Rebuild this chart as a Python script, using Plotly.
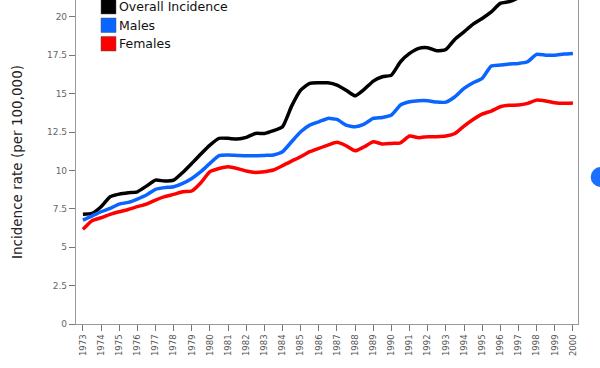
import plotly.graph_objects as go

years = [1973 + 0.5 * i for i in range(55)]

overall = [7.14, 7.20, 7.64, 8.29, 8.46, 8.55, 8.61, 8.98, 9.37, 9.31,
           9.37, 9.87, 10.46, 11.07, 11.65, 12.09, 12.09, 12.04, 12.15, 12.41,
           12.41, 12.59, 12.85, 14.19, 15.23, 15.67, 15.71, 15.71, 15.56, 15.23,
           14.86, 15.28, 15.82, 16.10, 16.21, 17.08, 17.62, 17.95, 17.99, 17.79,
           17.88, 18.55, 19.03, 19.53, 19.90, 20.33, 20.88, 21.00, 21.25, 21.60,
           21.90, 22.20, 22.45, 22.70, 22.90]

males = [6.77, 7.03, 7.31, 7.53, 7.81, 7.92, 8.14, 8.40, 8.77, 8.88,
         8.94, 9.16, 9.48, 9.92, 10.46, 10.96, 11.00, 10.98, 10.96, 10.96,
         10.98, 11.00, 11.22, 11.87, 12.52, 12.95, 13.17, 13.39, 13.32, 12.95,
         12.85, 13.02, 13.39, 13.45, 13.61, 14.26, 14.47, 14.54, 14.54, 14.45,
         14.45, 14.80, 15.34, 15.71, 15.99, 16.80, 16.86, 16.93, 16.97, 17.08,
         17.56, 17.51, 17.51, 17.58, 17.62]

females = [6.16, 6.73, 6.92, 7.14, 7.31, 7.46, 7.64, 7.81, 8.07, 8.29,
           8.44, 8.61, 8.66, 9.20, 9.92, 10.13, 10.24, 10.13, 9.96, 9.87,
           9.92, 10.03, 10.31, 10.61, 10.89, 11.22, 11.44, 11.65, 11.83, 11.61,
           11.28, 11.54, 11.87, 11.72, 11.76, 11.80, 12.24, 12.13, 12.20, 12.20,
           12.24, 12.41, 12.89, 13.32, 13.67, 13.87, 14.15, 14.24, 14.26, 14.37,
           14.58, 14.52, 14.41, 14.37, 14.39]

series_names = ["Overall Incidence", "Males", "Females"]
series_colors = ["#000000", "#0a64ff", "#ff0000"]
series_values = [overall, males, females]

tick_years = list(range(1973, 2001))
y_ticks = [0, 2.5, 5, 7.5, 10, 12.5, 15, 17.5, 20]
y_tick_labels = ["0", "2.5", "5", "7.5", "10", "12.5", "15", "17.5", "20"]

fig = go.Figure()
for name, color, vals in zip(series_names, series_colors, series_values):
    fig.add_trace(go.Scatter(
        x=years, y=vals, mode="lines", name=name, showlegend=False,
        line=dict(color=color, width=3.5, shape="spline", smoothing=0.5),
    ))

# manual legend (square swatches + labels), in paper coordinates
PLOT_W, PLOT_H = 502, 324
shapes = []
annotations = []
for i, (name, color) in enumerate(zip(series_names, series_colors)):
    cy = 7 + 18.5 * i          # centre, px from top of plot area
    x0 = (101 - 76) / PLOT_W
    x1 = (116 - 76) / PLOT_W
    y0 = 1 - (cy + 7) / PLOT_H
    y1 = 1 - (cy - 7.5) / PLOT_H
    shapes.append(dict(type="rect", xref="paper", yref="paper",
                       x0=x0, x1=x1, y0=y0, y1=y1, fillcolor=color,
                       line=dict(color="#555555", width=0.5)))
    annotations.append(dict(text=name, xref="paper", yref="paper",
                            x=(117 - 76) / PLOT_W, y=1 - cy / PLOT_H,
                            xanchor="left", yanchor="middle", showarrow=False,
                            font=dict(size=12.5, color="#111111")))

shapes.append(dict(type="circle", xref="paper", yref="paper",
                   x0=(590.7 - 76) / PLOT_W, x1=(610.7 - 76) / PLOT_W,
                   y0=(324 - 187) / PLOT_H, y1=(324 - 167) / PLOT_H,
                   fillcolor="#1a6fff", line=dict(width=0)))

fig.update_layout(
    width=600, height=368,
    margin=dict(l=76, r=22, t=0, b=44, autoexpand=False),
    paper_bgcolor="white", plot_bgcolor="white",
    font=dict(family="DejaVu Sans", color="#222222"),
    showlegend=False,
    xaxis=dict(
        range=[1972.62, 2000.28], tickmode="array", tickvals=tick_years,
        ticktext=[str(y) for y in tick_years], tickangle=-90,
        ticks="outside", ticklen=6, tickcolor="#777777",
        tickfont=dict(size=8.5, color="#555555"),
        showline=True, linecolor="#999999", linewidth=1,
        showgrid=False, zeroline=False, automargin=False,
    ),
    yaxis=dict(
        range=[0, 21.1], tickmode="array", tickvals=y_ticks, ticktext=y_tick_labels,
        ticks="outside", ticklen=6, tickcolor="#777777",
        tickfont=dict(size=9, color="#666666"),
        showline=True, linecolor="#999999", linewidth=1.2, mirror=True,
        showgrid=False, zeroline=False, automargin=False,
        title=dict(text="Incidence rate (per 100,000)", font=dict(size=13.5, color="#222222"),
                   standoff=21),
    ),
    shapes=shapes,
    annotations=annotations,
)

fig.write_html("out.html", config={"displayModeBar": False},
               post_script="document.body.style.margin='0';document.body.style.overflow='hidden';")
